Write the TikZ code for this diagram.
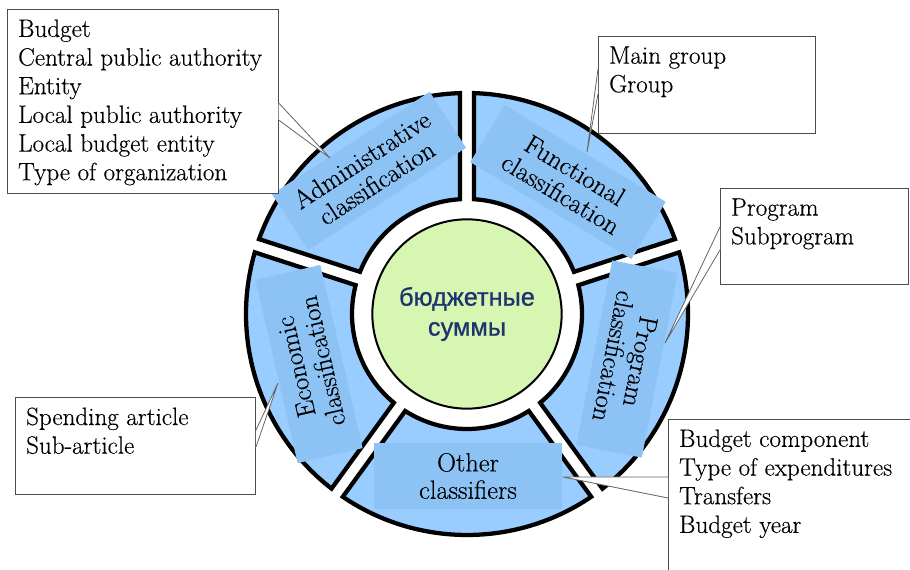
\documentclass[tikz,border=0pt]{standalone}
\usepackage{fontspec}
\usepackage{tikz}
\usetikzlibrary{calc}
\setmainfont{Latin Modern Roman}[FakeBold=0.35]
\newfontfamily\rufont{Liberation Sans}[FakeBold=0.9]
\definecolor{segblue}{RGB}{153,204,255}
\definecolor{lblblue}{RGB}{141,195,244}
\definecolor{sumgreen}{RGB}{214,246,178}
\definecolor{sumnavy}{RGB}{30,52,110}
\definecolor{wedgegray}{RGB}{100,100,100}
\newcommand{\boxlist}[3]{\parbox[t][#2][t]{#1}{#3}}

\begin{document}
\begin{tikzpicture}[x=0.75pt,y=0.75pt,
        part/.style={draw=black, line width=3.2pt, fill=segblue, line join=miter},
        lbl/.style={fill=lblblue, minimum width=141pt, minimum height=50pt, inner sep=0pt,
            align=center, font=\fontsize{19.8}{20.5}\selectfont},
        infobox/.style={draw=black!70, line width=0.75pt, fill=white, inner xsep=8pt,
            inner ysep=7.5pt, anchor=north west, font=\fontsize{18.8}{21.5}\selectfont},
        callout/.style={draw=wedgegray, line width=0.6pt, fill=white}]
        \useasboundingbox (-467,-256) rectangle (443,314);
        % ring
        \foreach \a in {18,90,162,234,306}
            \draw[part] ({\a+1.8}:221) arc[start angle=\a+1.8, end angle=\a+70.2, radius=221]
                -- ({\a+68.5}:115) arc[start angle=\a+68.5, end angle=\a+3.5, radius=115] -- cycle;
        \node[lbl, rotate=33] (admlbl) at (-98,143) {Administrative\\classification};
        \node[lbl, rotate=-31] (funlbl) at (101,132) {Functional\\classification};
        \node[lbl, rotate=-101] (prglbl) at (160,-45) {Program\\classification};
        \node[lbl, rotate=103] (ecolbl) at (-158,-50) {Economic\\classification};
        \node[lbl] (othlbl) at (1,-162) {Other\\classifiers};
        % centre
        \node[circle, draw=black, line width=1.5pt, fill=sumgreen, minimum size=142pt,
            text=sumnavy, align=center, font=\rufont\fontsize{19}{22.5}\selectfont]
            (sums) at (0,0) {бюджетные\\суммы};
        % boxes
        \node[infobox] (adminbox) at (-460,305) {\boxlist{187pt}{123pt}{Budget\\Central public authority\\Entity\\Local public authority\\Local budget entity\\Type of organization}};
        \node[infobox] (funcbox) at (131,278) {\boxlist{147pt}{58pt}{Main group\\Group}};
        \node[infobox] (progbox) at (253,126) {\boxlist{125pt}{57pt}{Program\\Subprogram}};
        \node[infobox] (econbox) at (-452,-83) {\boxlist{164pt}{58pt}{Spending article\\Sub-article}};
        \node[infobox] (othbox) at (201,-105) {\boxlist{179pt}{113pt}{Budget component\\Type of expenditures\\Transfers\\Budget year}};
        % callouts
        \coordinate (admtip) at (-137,156);
        \coordinate (funtip) at (120,162);
        \coordinate (prgtip) at (198,-29);
        \coordinate (ecotip) at (-189,-69);
        \coordinate (othtip) at (96,-163);
        \draw[callout] ($(adminbox.north east)+(0,-94)$) -- (admtip) -- ($(adminbox.north east)+(0,-111)$);
        \draw[callout] ($(funcbox.north west)+(0,-33)$) -- (funtip) -- ($(funcbox.north west)+(0,-58)$);
        \draw[callout] ($(progbox.north west)+(0,-39)$) -- (prgtip) -- ($(progbox.north west)+(0,-62)$);
        \draw[callout] ($(econbox.north east)+(0,-33)$) -- (ecotip) -- ($(econbox.north east)+(0,-50)$);
        \draw[callout] ($(othbox.north west)+(0,-58)$) -- (othtip) -- ($(othbox.north west)+(0,-79)$);
\end{tikzpicture}
\end{document}
